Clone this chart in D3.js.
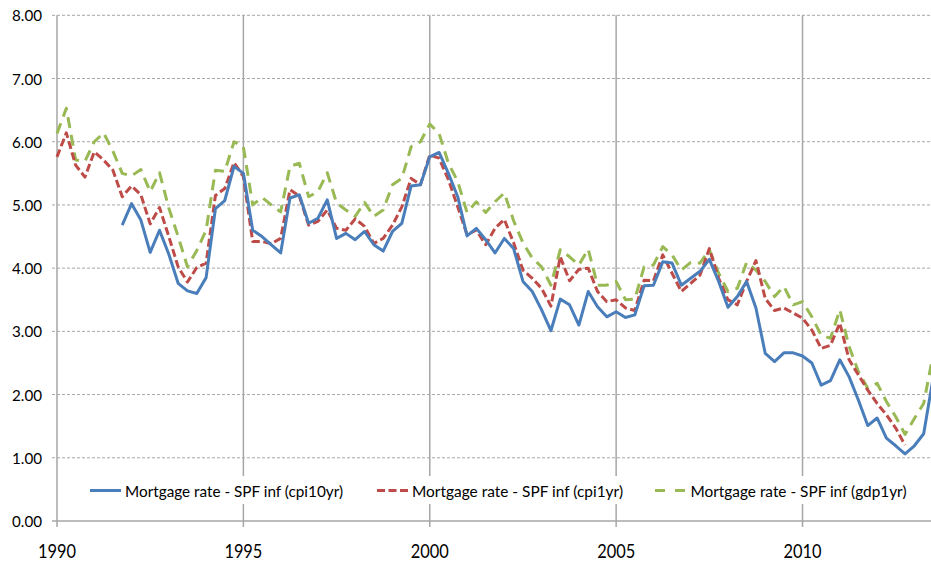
<!DOCTYPE html>
<html>
<head>
<meta charset="utf-8">
<script src="https://cdn.jsdelivr.net/npm/d3@7"></script>
<style>
  html, body { margin: 0; padding: 0; background: #fff; }
  svg { display: block; }
  text { font-family: Lato, "Liberation Sans", Arial, sans-serif; fill: #000; }
</style>
</head>
<body>
<svg id="chart" width="931" height="562"></svg>
<script>
// ---- data (quarterly, starting 1990 Q1) ----
const firstYear = 1990;
const seriesNames = [
  "Mortgage rate - SPF inf (cpi10yr)",
  "Mortgage rate - SPF inf (cpi1yr)",
  "Mortgage rate - SPF inf (gdp1yr)"
];
const cpi10yr = [
  null, null, null, null, null, null, null, 4.68,
  5.02, 4.76, 4.25, 4.60, 4.22, 3.76, 3.64, 3.60,
  3.85, 4.94, 5.07, 5.61, 5.50, 4.60, 4.50, 4.37,
  4.24, 5.11, 5.16, 4.71, 4.79, 5.08, 4.47, 4.55,
  4.45, 4.58, 4.37, 4.27, 4.58, 4.71, 5.30, 5.32,
  5.76, 5.83, 5.50, 5.13, 4.51, 4.63, 4.45, 4.24,
  4.47, 4.31, 3.79, 3.63, 3.34, 3.01, 3.51, 3.42,
  3.10, 3.63, 3.39, 3.23, 3.31, 3.22, 3.26, 3.72,
  3.73, 4.10, 4.08, 3.73, 3.84, 3.95, 4.14, 3.79,
  3.38, 3.55, 3.79, 3.37, 2.65, 2.52, 2.66, 2.66,
  2.61, 2.50, 2.15, 2.22, 2.55, 2.28, 1.91, 1.51,
  1.63, 1.31, 1.19, 1.06, 1.19, 1.38, 2.25
];
const cpi1yr = [
  5.76, 6.14, 5.63, 5.44, 5.84, 5.71, 5.55, 5.13,
  5.30, 5.16, 4.70, 4.96, 4.50, 4.02, 3.78, 4.01,
  4.08, 5.15, 5.26, 5.67, 5.45, 4.42, 4.42, 4.39,
  4.47, 5.24, 5.14, 4.68, 4.74, 4.92, 4.63, 4.60,
  4.78, 4.66, 4.39, 4.47, 4.68, 4.97, 5.42, 5.32,
  5.79, 5.74, 5.40, 4.97, 4.53, 4.60, 4.37, 4.63,
  4.77, 4.40, 3.97, 3.84, 3.68, 3.40, 4.18, 3.80,
  3.98, 4.00, 3.63, 3.47, 3.50, 3.37, 3.33, 3.81,
  3.80, 4.21, 3.92, 3.63, 3.76, 3.89, 4.31, 3.84,
  3.50, 3.42, 3.79, 4.12, 3.52, 3.33, 3.37, 3.29,
  3.21, 3.02, 2.73, 2.78, 3.13, 2.55, 2.31, 2.07,
  1.86, 1.68, 1.47, 1.20, null, null, null
];
const gdp1yr = [
  6.13, 6.53, 5.71, 5.69, 6.00, 6.14, 5.85, 5.50,
  5.46, 5.56, 5.21, 5.51, 4.95, 4.50, 4.02, 4.28,
  4.60, 5.55, 5.53, 6.00, 5.92, 5.00, 5.12, 5.00,
  4.89, 5.61, 5.66, 5.13, 5.21, 5.51, 5.03, 4.92,
  4.82, 5.04, 4.82, 4.92, 5.32, 5.42, 5.92, 6.00,
  6.28, 6.13, 5.66, 5.37, 4.88, 5.05, 4.88, 5.05,
  5.19, 4.75, 4.40, 4.16, 4.02, 3.73, 4.29, 4.18,
  4.05, 4.30, 3.73, 3.73, 3.79, 3.50, 3.51, 4.02,
  4.05, 4.34, 4.21, 3.97, 4.09, 4.08, 4.29, 3.92,
  3.63, 3.68, 4.09, 3.97, 3.79, 3.55, 3.71, 3.42,
  3.47, 3.23, 2.94, 2.89, 3.34, 2.76, 2.36, 2.10,
  2.18, 1.89, 1.65, 1.37, 1.62, 1.86, 2.62
];
const yTicks = [0, 1, 2, 3, 4, 5, 6, 7, 8];
const xTicks = [1990, 1995, 2000, 2005, 2010];

// ---- layout ----
const svg = d3.select("#chart");
const plotL = 57, plotR = 933, plotT = 15.3, plotB = 521;
const x = d3.scaleLinear().domain([1990, 2013.5]).range([plotL, plotR]);
const y = d3.scaleLinear().domain([0, 8]).range([plotB, plotT]);
const dateOf = i => firstYear + i / 4;

const gridCol = "#a6a6a6";

// horizontal dashed gridlines
svg.append("g").selectAll("line")
  .data(yTicks.filter(t => t > 0))
  .join("line")
  .attr("x1", plotL - 5).attr("x2", 931)
  .attr("y1", d => y(d)).attr("y2", d => y(d))
  .attr("stroke", gridCol).attr("stroke-width", 1)
  .attr("stroke-dasharray", "3,2");

// vertical gridlines (with tick extension below axis)
svg.append("g").selectAll("line")
  .data(xTicks)
  .join("line")
  .attr("x1", d => x(d)).attr("x2", d => x(d))
  .attr("y1", plotT).attr("y2", plotB + 6)
  .attr("stroke", gridCol).attr("stroke-width", 1.5);

// x axis line
svg.append("line")
  .attr("x1", plotL - 5).attr("x2", 931)
  .attr("y1", plotB).attr("y2", plotB)
  .attr("stroke", gridCol).attr("stroke-width", 1.5);

// y tick labels
const yFmt = d3.format(".2f");
svg.append("g").selectAll("text")
  .data(yTicks)
  .join("text")
  .attr("x", 42).attr("y", d => y(d) + 6)
  .attr("text-anchor", "end")
  .attr("font-size", 15)
  .attr("textLength", 30).attr("lengthAdjust", "spacingAndGlyphs")
  .text(d => yFmt(d));

// x tick labels
svg.append("g").selectAll("text")
  .data(xTicks)
  .join("text")
  .attr("x", d => x(d)).attr("y", 558)
  .attr("text-anchor", "middle")
  .attr("font-size", 20)
  .attr("textLength", 38).attr("lengthAdjust", "spacingAndGlyphs")
  .text(d => d);

// series lines
const series = [
  { name: seriesNames[0], values: cpi10yr, color: "#4a7ebb", dash: null },
  { name: seriesNames[1], values: cpi1yr,  color: "#be4b48", dash: "8,3.5" },
  { name: seriesNames[2], values: gdp1yr,  color: "#98b954", dash: "11,7" }
];
const line = d3.line()
  .defined(d => d.v != null)
  .x(d => x(d.t))
  .y(d => y(d.v));

svg.append("g").selectAll("path")
  .data(series.slice().reverse())
  .join("path")
  .attr("d", s => line(s.values.map((v, i) => ({ t: dateOf(i), v }))))
  .attr("fill", "none")
  .attr("stroke", s => s.color)
  .attr("stroke-width", 3)
  .attr("stroke-linejoin", "round")
  .attr("stroke-dasharray", s => s.dash);

// legend
const lg = svg.append("g");
lg.append("rect")
  .attr("x", 84).attr("y", 476).attr("width", 832).attr("height", 28)
  .attr("fill", "#fff");
const legendItems = [
  { lx: 90,  tx: 125,   tw: 218 },
  { lx: 377, tx: 412,   tw: 211 },
  { lx: 655, tx: 690.5, tw: 216 }
];
series.forEach((s, i) => {
  const it = legendItems[i];
  lg.append("line")
    .attr("x1", it.lx).attr("x2", it.lx + 31)
    .attr("y1", 490.5).attr("y2", 490.5)
    .attr("stroke", s.color).attr("stroke-width", 3)
    .attr("stroke-dasharray", i === 2 ? "10,10" : s.dash);
  lg.append("text")
    .attr("x", it.tx).attr("y", 496.5)
    .attr("font-size", 16)
    .attr("textLength", it.tw).attr("lengthAdjust", "spacingAndGlyphs")
    .text(s.name);
});
</script>
</body>
</html>
